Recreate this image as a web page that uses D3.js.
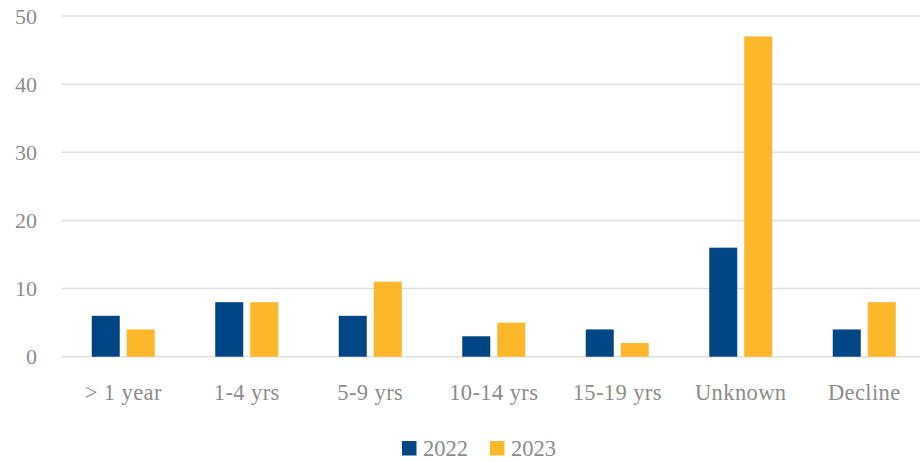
<!DOCTYPE html>
<html>
<head>
<meta charset="utf-8">
<script src="https://cdn.jsdelivr.net/npm/d3@7"></script>
<style>
  body { margin: 0; background: #fff; }
  svg { display: block; font-family: "Liberation Serif", "DejaVu Serif", serif; }
</style>
</head>
<body>
<svg id="chart" width="920" height="462"></svg>
<script>
const categories = ["> 1 year", "1-4 yrs", "5-9 yrs", "10-14 yrs", "15-19 yrs", "Unknown", "Decline"]
const series = ["2022", "2023"]
const values2022 = [6, 8, 6, 3, 4, 16, 4]
const values2023 = [4, 8, 11, 5, 2, 47, 8]
const yTicks = [0, 10, 20, 30, 40, 50]

const colors = { "2022": "#004684", "2023": "#FDB72A" }
const textColor = "#8c8c8c"

const svg = d3.select("#chart")
const width = 920
const plotLeft = 61.5, plotRight = 926

const x = d3.scaleBand()
  .domain(categories)
  .range([plotLeft, plotRight])
  .padding(0)

const y = d3.scaleLinear()
  .domain([0, 50])
  .range([356.7, 16])

const inner = d3.scaleBand()
  .domain(series)
  .range([-31.5, 31.5])
  .paddingInner(0.2)

// Gridlines
svg.append("g")
  .selectAll("line")
  .data(yTicks)
  .join("line")
  .attr("x1", plotLeft)
  .attr("x2", plotRight)
  .attr("y1", d => y(d))
  .attr("y2", d => y(d))
  .attr("stroke", "#e0e0e0")
  .attr("stroke-width", 1.5)

// Y axis labels
const yAxis = d3.axisLeft(y).tickValues(yTicks).tickSize(0).tickPadding(0)
svg.append("g")
  .attr("transform", "translate(37,0)")
  .call(yAxis)
  .call(g => g.select(".domain").remove())
  .call(g => g.selectAll("text")
    .attr("fill", textColor)
    .attr("font-size", 22)
    .attr("font-family", "Liberation Serif, serif"))

// X axis labels
const xAxis = d3.axisBottom(x).tickSize(0).tickPadding(0)
svg.append("g")
  .attr("transform", "translate(0,384)")
  .call(xAxis)
  .call(g => g.select(".domain").remove())
  .call(g => g.selectAll("text")
    .attr("fill", textColor)
    .attr("font-size", 22.5)
    .attr("letter-spacing", 0.4)
    .attr("font-family", "Liberation Serif, serif"))

// Bars
const rows = categories.map((c, i) => ({ cat: c, "2022": values2022[i], "2023": values2023[i] }))

svg.append("g")
  .selectAll("g")
  .data(rows)
  .join("g")
  .attr("transform", d => `translate(${x(d.cat) + x.bandwidth() / 2},0)`)
  .selectAll("rect")
  .data(d => series.map(s => ({ s, v: d[s] })))
  .join("rect")
  .attr("x", d => inner(d.s))
  .attr("width", inner.bandwidth())
  .attr("y", d => y(d.v))
  .attr("height", d => y(0) - y(d.v))
  .attr("fill", d => colors[d.s])

// Legend
const legend = svg.append("g").attr("transform", "translate(402,441)")
const items = legend.selectAll("g")
  .data(series)
  .join("g")
  .attr("transform", (d, i) => `translate(${i * 88},0)`)

items.append("rect")
  .attr("width", 14.5)
  .attr("height", 14.5)
  .attr("fill", d => colors[d])

items.append("text")
  .attr("x", 21)
  .attr("y", 15)
  .attr("fill", textColor)
  .attr("font-size", 22.5)
  .text(d => d)
</script>
</body>
</html>
